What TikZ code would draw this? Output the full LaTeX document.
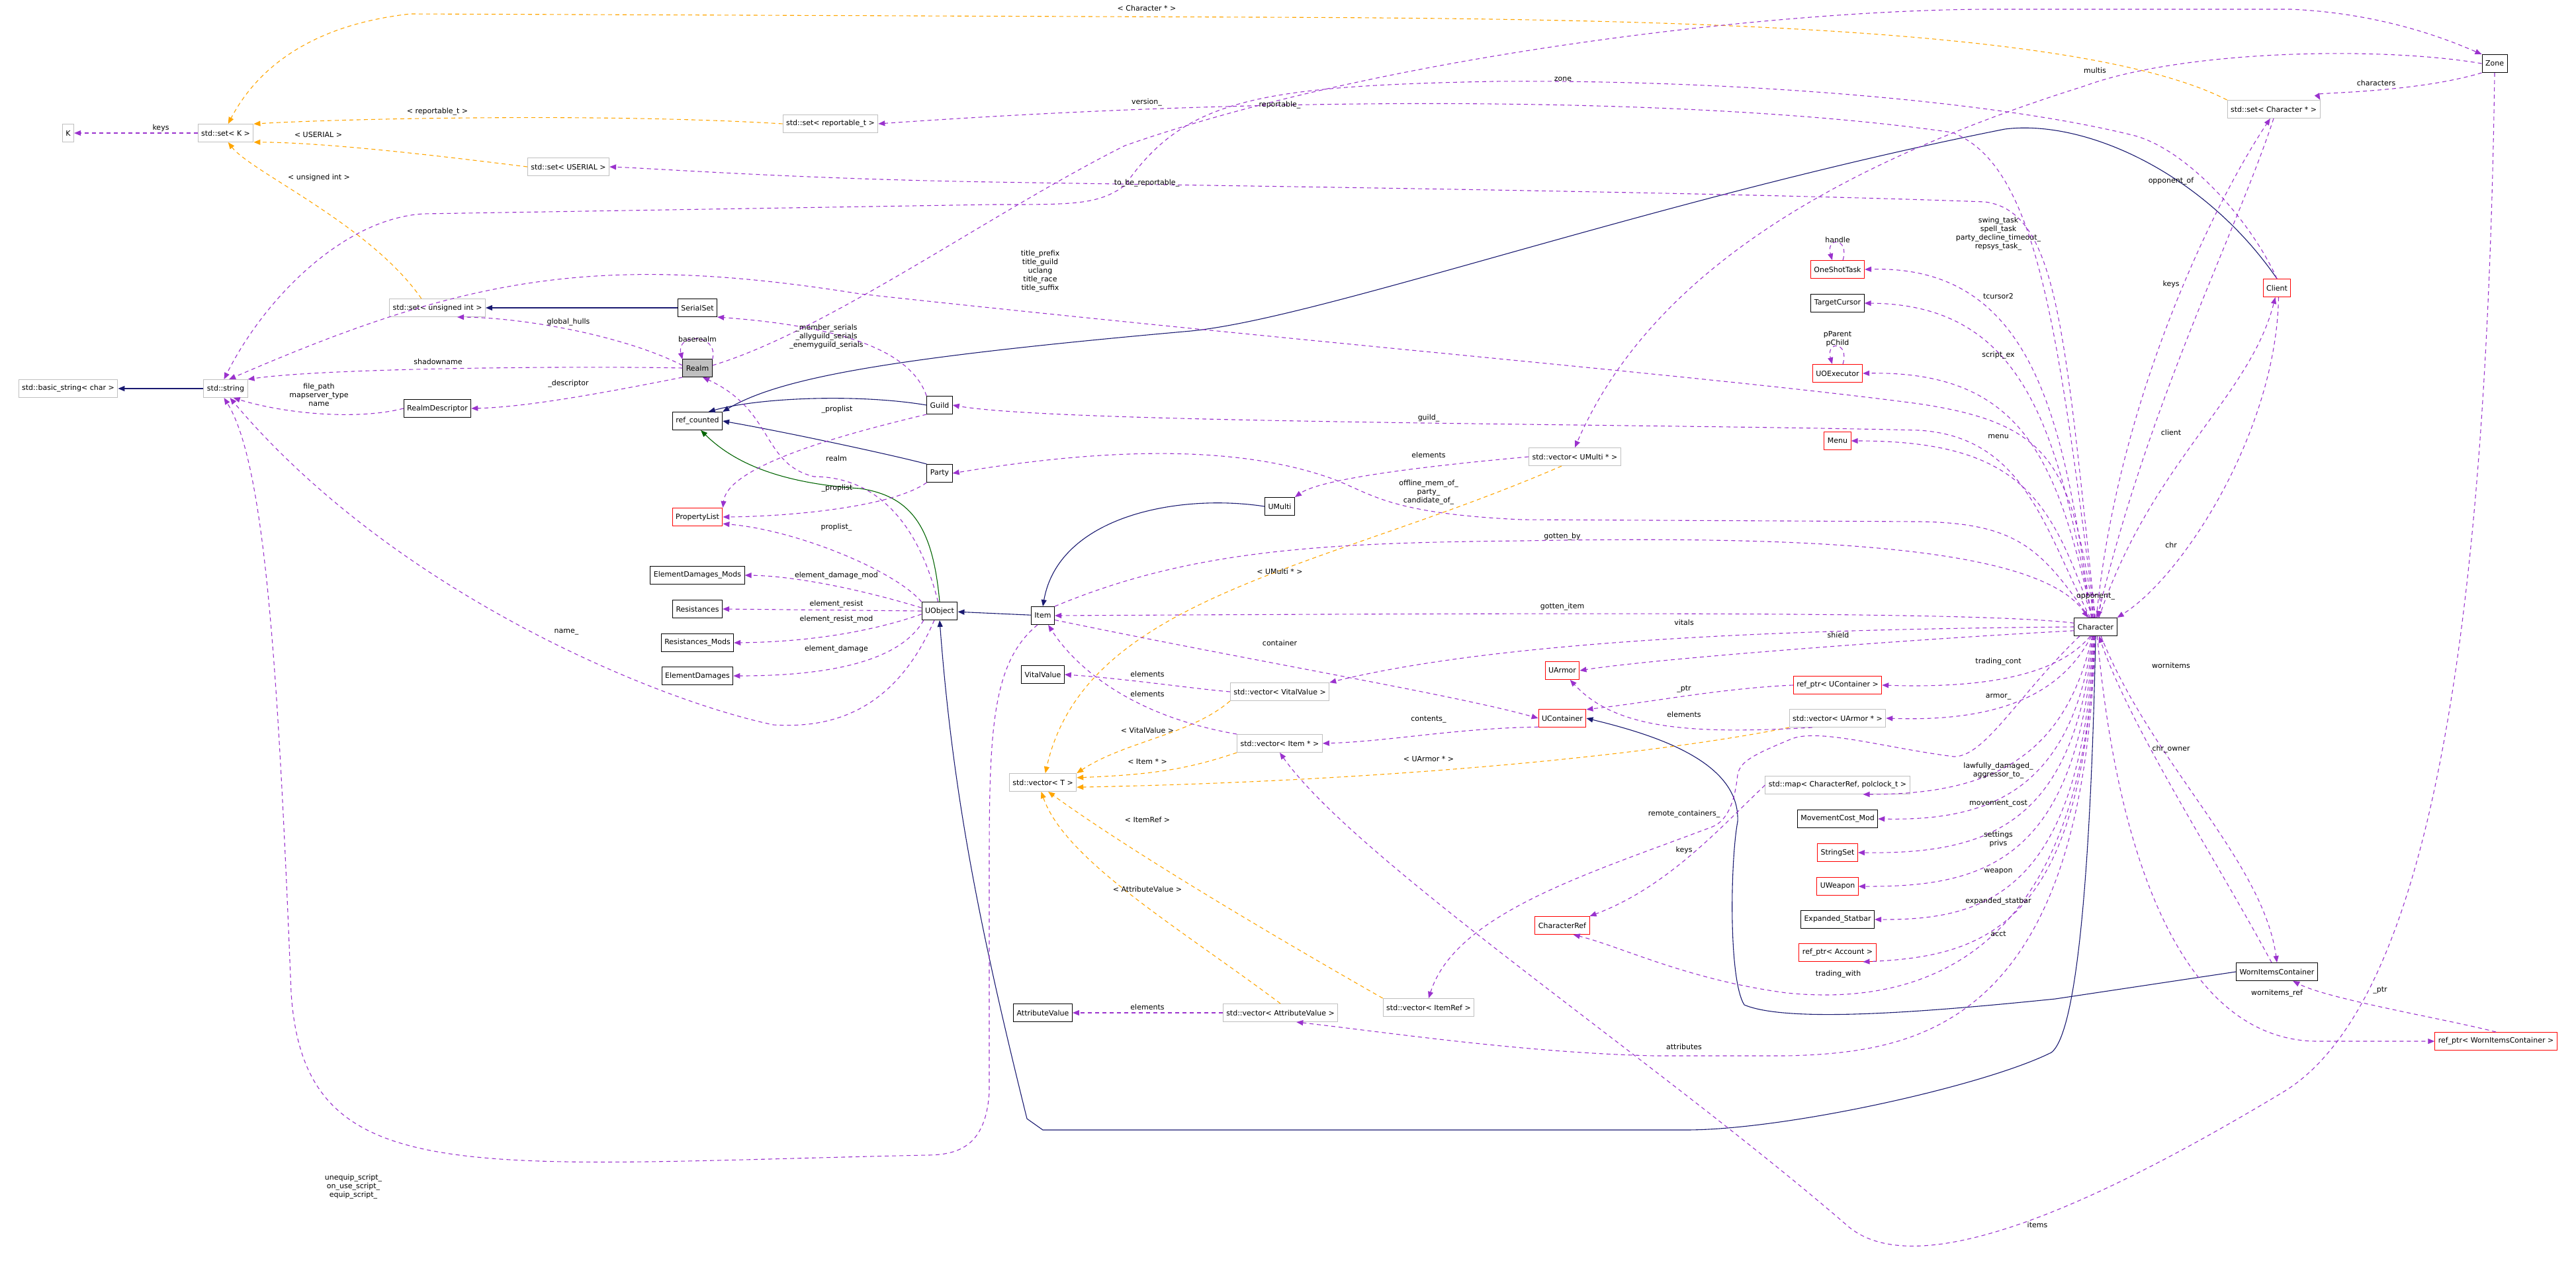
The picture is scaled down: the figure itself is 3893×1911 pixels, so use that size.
\documentclass[tikz,border=0pt]{standalone}
\usepackage{fontspec}
\setmainfont{DejaVu Sans}
\usetikzlibrary{arrows.meta}
\definecolor{memclr}{HTML}{9A32CD}
\definecolor{tmplclr}{HTML}{FFA500}
\definecolor{inhclr}{HTML}{191970}
\definecolor{protclr}{HTML}{006400}
\definecolor{extclr}{HTML}{BFBFBF}
\newcommand{\dxfont}{\fontsize{11bp}{13bp}\selectfont}
\begin{document}
\begin{tikzpicture}[x=1bp,y=-1bp]
    \tikzstyle{cls}=[draw=black,fill=white,font=\dxfont,inner sep=5bp,minimum height=27bp,line width=1bp]
    \tikzstyle{ext}=[cls,draw=extclr]
    \tikzstyle{trunc}=[cls,draw=red]
    \tikzstyle{cur}=[cls,fill=extclr]
    \tikzstyle{lbl}=[font=\dxfont,align=center,inner sep=1bp]
    \tikzstyle{mem}=[draw=memclr,line width=1.1bp,dash pattern=on 6bp off 5bp,-{Triangle[length=10bp,width=8bp,fill=memclr]}]
    \tikzstyle{tmpl}=[mem,draw=tmplclr,-{Triangle[length=10bp,width=8bp,fill=tmplclr]}]
    \tikzstyle{inh}=[draw=inhclr,line width=1.1bp,-{Triangle[length=10bp,width=8bp,fill=inhclr]}]
    \tikzstyle{prot}=[inh,draw=protclr,-{Triangle[length=10bp,width=8bp,fill=protclr]}]
    \useasboundingbox (0,0) rectangle (3893,1911);

    % classes, left part
    \node[ext] (K) at (103,201) {K};
    \node[ext] (setK) at (341,201) {std::set< K >};
    \node[ext] (setRep) at (1255,187) {std::set< reportable\_t >};
    \node[ext] (setUS) at (859,252) {std::set< USERIAL >};
    \node[ext] (setUI) at (661,465) {std::set< unsigned int >};
    \node[cls] (serialset) at (1054,465) {SerialSet};
    \node[cur] (realm) at (1054,556) {Realm};
    \node[ext] (str) at (341,587) {std::string};
    \node[ext] (bstr) at (103,587) {std::basic\_string< char >};
    \node[cls] (rdesc) at (661,617) {RealmDescriptor};
    \node[cls] (refc) at (1054,636) {ref\_counted};
    \node[cls] (guild) at (1420,612) {Guild};
    \node[cls] (party) at (1420,715) {Party};
    \node[trunc] (plist) at (1054,781) {PropertyList};
    \node[cls] (edm) at (1054,869) {ElementDamages\_Mods};
    \node[cls] (res) at (1054,920) {Resistances};
    \node[cls] (resm) at (1054,971) {Resistances\_Mods};
    \node[cls] (ed) at (1054,1021) {ElementDamages};
    \node[cls] (uobj) at (1420,923) {UObject};
    \node[cls] (item) at (1576,930) {Item};
    \node[cls] (umulti) at (1934,765) {UMulti};
    \node[cls] (vital) at (1576,1019) {VitalValue};
    \node[ext] (vecVV) at (1934,1045) {std::vector< VitalValue >};
    \node[ext] (vecIt) at (1934,1123) {std::vector< Item * >};
    \node[ext] (vecT) at (1576,1182) {std::vector< T >};
    \node[ext] (vecUM) at (2380,690) {std::vector< UMulti * >};
    \node[cls] (attr) at (1576,1530) {AttributeValue};
    \node[ext] (vecAV) at (1935,1530) {std::vector< AttributeValue >};
    \node[ext] (vecIR) at (2159,1522) {std::vector< ItemRef >};

    % classes, right part
    \node[trunc] (ost) at (2777,407) {OneShotTask};
    \node[cls] (tcur) at (2777,458) {TargetCursor};
    \node[trunc] (uoe) at (2777,564) {UOExecutor};
    \node[trunc] (menu) at (2777,666) {Menu};
    \node[trunc] (client) at (3441,435) {Client};
    \node[cls] (chr) at (3167,947) {Character};
    \node[trunc] (uarmor) at (2361,1013) {UArmor};
    \node[trunc] (refUC) at (2777,1035) {ref\_ptr< UContainer >};
    \node[trunc] (ucont) at (2361,1085) {UContainer};
    \node[ext] (vecUA) at (2777,1085) {std::vector< UArmor * >};
    \node[ext] (mapCR) at (2777,1186) {std::map< CharacterRef, polclock\_t >};
    \node[cls] (mcm) at (2777,1237) {MovementCost\_Mod};
    \node[trunc] (sset) at (2777,1288) {StringSet};
    \node[trunc] (uweap) at (2777,1339) {UWeapon};
    \node[cls] (estat) at (2777,1389) {Expanded\_Statbar};
    \node[trunc] (refAcc) at (2777,1439) {ref\_ptr< Account >};
    \node[trunc] (charref) at (2361,1398) {CharacterRef};
    \node[cls] (wic) at (3441,1468) {WornItemsContainer};
    \node[trunc] (refWIC) at (3772,1573) {ref\_ptr< WornItemsContainer >};
    \node[cls] (zone) at (3770,96) {Zone};
    \node[ext] (setChar) at (3436,165) {std::set< Character * >};

    % inheritance
    \draw[inh] (str) -- (bstr);
    \draw[inh] (serialset) -- (setUI);
    \draw[inh] (guild.west) .. controls (1300,595) and (1150,600) .. (refc.40);
    \draw[inh] (party.north west) .. controls (1360,690) and (1200,655) .. (refc.east);
    \draw[inh] (client.north) .. controls (3330,260) and (3150,180) .. (3030,195) .. controls (2500,300) and (2000,480) .. (1800,500) .. controls (1350,540) and (1180,570) .. (refc.north east);
    \draw[prot] (uobj.north) .. controls (1410,800) and (1380,750) .. (1300,738) .. controls (1180,730) and (1110,700) .. (refc.-70);
    \draw[inh] (item) -- (uobj);
    \draw[inh] (umulti.west) .. controls (1780,745) and (1600,780) .. (item.north);
    \draw[inh] (chr.south) .. controls (3160,1300) and (3140,1560) .. (3100,1590) .. controls (3000,1640) and (2700,1707) .. (2547,1707) -- (1576,1707) -- (1552,1690) .. controls (1480,1400) and (1440,1200) .. (uobj.south);
    \draw[inh] (wic.west) -- (3106,1509) .. controls (2900,1530) and (2700,1545) .. (2636,1518) .. controls (2612,1480) and (2615,1300) .. (2626,1241) .. controls (2630,1150) and (2500,1110) .. (ucont.east);

    % templates
    \draw[tmpl] (setRep.west) .. controls (900,170) and (500,180) .. (setK.18);
    \draw[tmpl] (setUS.west) .. controls (700,240) and (500,215) .. (setK.-18);
    \draw[tmpl] (setUI.150) .. controls (560,340) and (380,260) .. (setK.-75);
    \draw[tmpl] (setChar.north west) .. controls (3150,40) and (2500,28) .. (1900,26) -- (620,21) .. controls (450,40) and (380,120) .. (setK.75);
    \draw[tmpl] (vecUM.215) .. controls (2000,860) and (1640,900) .. (vecT.75);
    \draw[tmpl] (vecVV.south west) .. controls (1800,1110) and (1700,1120) .. (vecT.north east);
    \draw[tmpl] (vecIt.south west) .. controls (1800,1160) and (1750,1170) .. (vecT.8);
    \draw[tmpl] (vecUA.south west) .. controls (2500,1140) and (2100,1180) .. (vecT.-8);
    \draw[tmpl] (vecIR.north west) .. controls (1900,1400) and (1700,1280) .. (vecT.-60);
    \draw[tmpl] (vecAV.north) .. controls (1780,1400) and (1610,1300) .. (vecT.-100);

    % members, left part
    \draw[mem] (setK) -- (K);
    \draw[mem] (realm.170) .. controls (950,510) and (800,480) .. (setUI.-25);
    \draw[mem] (realm.30) .. controls +(10,-40) and +(-10,-40) .. (realm.150);
    \draw[mem] (realm.west) .. controls (900,553) and (500,555) .. (str.north east);
    \draw[mem] (realm.south west) .. controls (930,590) and (800,615) .. (rdesc.east);
    \draw[mem] (rdesc.west) .. controls (540,635) and (430,625) .. (str.-50);
    \draw[mem] (uobj.-120) .. controls (1350,1080) and (1250,1100) .. (1169,1095) .. controls (1000,1060) and (600,900) .. (str.-65);
    \draw[mem] (item.-120) .. controls (1500,1000) and (1495,1100) .. (1495,1300) -- (1495,1650) .. controls (1490,1730) and (1450,1745) .. (1400,1745) .. controls (700,1760) and (460,1800) .. (440,1500) .. controls (420,1000) and (400,700) .. (str.-100);
    \draw[mem] (uobj.100) .. controls (1380,760) and (1300,720) .. (1230,720) .. controls (1150,700) and (1170,620) .. (realm.-60);
    \draw[mem] (guild.north west) .. controls (1380,540) and (1300,495) .. (serialset.south east);
    \draw[mem] (guild.south west) .. controls (1300,650) and (1100,700) .. (plist.north east);
    \draw[mem] (party.south west) .. controls (1350,765) and (1200,780) .. (plist.east);
    \draw[mem] (uobj.north west) .. controls (1350,860) and (1200,800) .. (plist.-15);
    \draw[mem] (uobj.170) .. controls (1300,890) and (1200,870) .. (edm.east);
    \draw[mem] (uobj.west) -- (res.east);
    \draw[mem] (uobj.-170) .. controls (1300,960) and (1200,970) .. (resm.east);
    \draw[mem] (uobj.-150) .. controls (1360,1000) and (1250,1021) .. (ed.east);
    \draw[mem] (vecUM.west) .. controls (2200,700) and (2000,720) .. (umulti.north east);
    \draw[mem] (vecVV.west) .. controls (1800,1040) and (1700,1025) .. (vital.east);
    \draw[mem] (vecIt.north west) .. controls (1700,1080) and (1620,1000) .. (item.-60);
    \draw[mem] (item.-20) .. controls (1900,1000) and (2200,1050) .. (ucont.west);
    \draw[mem] (ucont.200) .. controls (2200,1100) and (2100,1120) .. (vecIt.east);
    \draw[mem] (vecAV.west) -- (attr.east);
    \draw[mem] (refUC.west) .. controls (2600,1040) and (2500,1060) .. (ucont.20);
    \draw[mem] (vecUA.200) .. controls (2550,1110) and (2440,1100) .. (uarmor.-50);
    \draw[mem] (mapCR.west) .. controls (2600,1250) and (2520,1340) .. (charref.north east);

    % members, Character and friends
    \draw[mem] (chr.100) .. controls (3130,700) and (3100,640) .. (2900,610) .. controls (2600,570) and (2000,520) .. (1300,444) .. controls (900,380) and (700,420) .. (str.70);
    \draw[mem] (client.north) .. controls (3400,330) and (3300,220) .. (3218,203) .. controls (3000,150) and (2600,120) .. (2257,123) .. controls (1900,130) and (1790,150) .. (1700,280) .. controls (1660,310) and (1620,309) .. (1500,309) -- (640,323) .. controls (520,330) and (400,450) .. (str.100);
    \draw[mem] (chr.95) .. controls (3110,500) and (3080,250) .. (2950,200) .. controls (2600,150) and (2000,140) .. (setRep.east);
    \draw[mem] (chr.92) .. controls (3120,500) and (3110,320) .. (3000,305) .. controls (2600,290) and (1800,280) .. (1500,275) .. controls (1200,270) and (1000,255) .. (setUS.east);
    \draw[mem] (realm.10) .. controls (1250,500) and (1500,320) .. (1700,220) .. controls (2100,80) and (2700,14) .. (3009,14) -- (3462,14) .. controls (3600,20) and (3700,60) .. (zone.north west);
    \draw[mem] (zone.west) .. controls (3600,70) and (3300,75) .. (3150,130) .. controls (2800,240) and (2500,400) .. (vecUM.north);
    \draw[mem] (zone.south west) .. controls (3650,140) and (3500,140) .. (setChar.north east);
    \draw[mem] (zone.south) .. controls (3760,800) and (3700,1500) .. (3450,1650) .. controls (3200,1800) and (2900,1950) .. (2790,1850) .. controls (2500,1600) and (2050,1300) .. (vecIt.south);
    \draw[mem] (setChar.south) .. controls (3380,350) and (3250,600) .. (chr.80);
    \draw[mem] (chr.85) .. controls (3200,600) and (3350,300) .. (setChar.-110);
    \draw[mem] (chr.105) .. controls +(-10,-45) and +(10,-45) .. (chr.75);
    \draw[mem] (client.-80) .. controls (3440,650) and (3300,870) .. (chr.north east);
    \draw[mem] (chr.70) .. controls (3250,700) and (3400,600) .. (client.-100);
    \draw[mem] (chr.120) .. controls (3090,800) and (3060,660) .. (2900,650) .. controls (2500,640) and (1600,640) .. (guild.east);
    \draw[mem] (chr.125) .. controls (3085,830) and (3050,790) .. (2900,788) -- (2300,785) .. controls (2080,775) and (2070,740) .. (1998,718) .. controls (1850,670) and (1650,680) .. (party.east);
    \draw[mem] (item.north east) .. controls (1800,830) and (2000,820) .. (2300,817) .. controls (2700,810) and (3080,820) .. (chr.130);
    \draw[mem] (chr.170) .. controls (3000,925) and (2500,925) .. (item.east);
    \draw[mem] (chr.west) .. controls (2800,950) and (2300,960) .. (vecVV.north east);
    \draw[mem] (chr.-170) .. controls (2900,965) and (2500,995) .. (uarmor.east);
    \draw[mem] (chr.115) .. controls (3120,650) and (3080,400) .. (ost.east);
    \draw[mem] (ost.60) .. controls +(10,-35) and +(-10,-35) .. (ost.120);
    \draw[mem] (chr.112) .. controls (3110,650) and (3060,460) .. (tcur.east);
    \draw[mem] (chr.110) .. controls (3110,700) and (3060,560) .. (uoe.east);
    \draw[mem] (uoe.60) .. controls +(10,-35) and +(-10,-35) .. (uoe.120);
    \draw[mem] (chr.108) .. controls (3100,760) and (3060,666) .. (menu.east);
    \draw[mem] (chr.-120) .. controls (3110,1020) and (3000,1040) .. (refUC.east);
    \draw[mem] (chr.-115) .. controls (3110,1060) and (3000,1090) .. (vecUA.east);
    \draw[mem] (chr.-110) .. controls (3120,1150) and (3000,1200) .. (mapCR.-20);
    \draw[mem] (chr.-108) .. controls (3130,1200) and (3000,1240) .. (mcm.east);
    \draw[mem] (chr.-105) .. controls (3135,1250) and (3000,1290) .. (sset.east);
    \draw[mem] (chr.-102) .. controls (3140,1300) and (3000,1340) .. (uweap.east);
    \draw[mem] (chr.-100) .. controls (3145,1350) and (3000,1390) .. (estat.east);
    \draw[mem] (chr.-98) .. controls (3150,1400) and (3000,1445) .. (refAcc.-20);
    \draw[mem] (chr.-96) .. controls (3150,1450) and (2900,1520) .. (2700,1500) .. controls (2550,1480) and (2450,1430) .. (charref.-40);
    \draw[mem] (chr.-150) .. controls (3050,1050) and (3000,1143) .. (2953,1143) .. controls (2850,1130) and (2750,1100) .. (2708,1116) .. controls (2650,1140) and (2630,1150) .. (2626,1170) .. controls (2620,1230) and (2600,1245) .. (2585,1250) .. controls (2400,1320) and (2200,1380) .. (vecIR.north);
    \draw[mem] (chr.-94) .. controls (3150,1550) and (2900,1590) .. (2700,1595) -- (2500,1595) .. controls (2300,1590) and (2100,1560) .. (vecAV.-30);
    \draw[mem] (chr.-60) .. controls (3250,1150) and (3420,1300) .. (wic.north);
    \draw[mem] (wic.120) .. controls (3350,1300) and (3220,1100) .. (chr.-70);
    \draw[mem] (chr.-80) .. controls (3200,1300) and (3300,1570) .. (3500,1573) -- (refWIC.west);
    \draw[mem] (refWIC.north) .. controls (3700,1540) and (3520,1510) .. (wic.-30);

    % labels
    \node[lbl] (l-keys) at (243,193) {keys};
    \node[lbl] (l-rep) at (661,169) {< reportable\_t >};
    \node[lbl] (l-us) at (481,203) {< USERIAL >};
    \node[lbl] (l-ui) at (482,268) {< unsigned int >};
    \node[lbl] (l-chs) at (1733,12) {< Character * >};
    \node[lbl] (l-ver) at (1733,155) {version\_};
    \node[lbl] (l-repo) at (1934,159) {reportable\_};
    \node[lbl] (l-tbr) at (1733,277) {to\_be\_reportable\_};
    \node[lbl] (l-zone) at (2362,119) {zone};
    \node[lbl] (l-multis) at (3166,106) {multis};
    \node[lbl] (l-charsz) at (3591,125) {characters};
    \node[lbl] (l-oppof) at (3281,274) {opponent\_of};
    \node[lbl] (l-keysc) at (3281,429) {keys};
    \node[lbl] (l-client) at (3281,653) {client};
    \node[lbl] (l-chr) at (3281,823) {chr};
    \node[lbl] (l-opp) at (3167,901) {opponent\_};
    \node[lbl] (l-title) at (1572,410) {title\_prefix\\title\_guild\\uclang\\title\_race\\title\_suffix};
    \node[lbl] (l-hulls) at (859,487) {global\_hulls};
    \node[lbl] (l-base) at (1054,512) {baserealm};
    \node[lbl] (l-shadow) at (662,546) {shadowname};
    \node[lbl] (l-path) at (482,596) {file\_path\\mapserver\_type\\name};
    \node[lbl] (l-desc) at (859,580) {\_descriptor};
    \node[lbl] (l-serials) at (1249,509) {\_member\_serials\\\_allyguild\_serials\\\_enemyguild\_serials};
    \node[lbl] (l-gpl) at (1265,619) {\_proplist};
    \node[lbl] (l-realm) at (1264,692) {realm};
    \node[lbl] (l-ppl) at (1265,738) {\_proplist};
    \node[lbl] (l-upl) at (1264,797) {proplist\_};
    \node[lbl] (l-edm) at (1264,870) {element\_damage\_mod};
    \node[lbl] (l-er) at (1264,913) {element\_resist};
    \node[lbl] (l-erm) at (1264,936) {element\_resist\_mod};
    \node[lbl] (l-ed) at (1264,981) {element\_damage};
    \node[lbl] (l-name) at (856,955) {name\_};
    \node[lbl] (l-scripts) at (534,1793) {unequip\_script\_\\on\_use\_script\_\\equip\_script\_};
    \node[lbl] (l-guild) at (2159,632) {guild\_};
    \node[lbl] (l-elum) at (2159,687) {elements};
    \node[lbl] (l-party) at (2159,744) {offline\_mem\_of\_\\party\_\\candidate\_of\_};
    \node[lbl] (l-tum) at (1934,863) {< UMulti * >};
    \node[lbl] (l-gby) at (2361,811) {gotten\_by};
    \node[lbl] (l-gitem) at (2361,917) {gotten\_item};
    \node[lbl] (l-vitals) at (2545,940) {vitals};
    \node[lbl] (l-shield) at (2778,959) {shield};
    \node[lbl] (l-cont) at (1934,971) {container};
    \node[lbl] (l-elvv) at (1734,1018) {elements};
    \node[lbl] (l-elit) at (1734,1048) {elements};
    \node[lbl] (l-tvv) at (1734,1103) {< VitalValue >};
    \node[lbl] (l-tit) at (1734,1150) {< Item * >};
    \node[lbl] (l-contents) at (2159,1087) {contents\_};
    \node[lbl] (l-tua) at (2159,1146) {< UArmor * >};
    \node[lbl] (l-tir) at (1734,1238) {< ItemRef >};
    \node[lbl] (l-tav) at (1734,1343) {< AttributeValue >};
    \node[lbl] (l-elav) at (1734,1521) {elements};
    \node[lbl] (l-ptr) at (2545,1041) {\_ptr};
    \node[lbl] (l-elua) at (2545,1079) {elements};
    \node[lbl] (l-remote) at (2545,1230) {remote\_containers\_};
    \node[lbl] (l-keysm) at (2545,1284) {keys};
    \node[lbl] (l-attrs) at (2545,1581) {attributes};
    \node[lbl] (l-tasks) at (3020,353) {swing\_task\\spell\_task\\party\_decline\_timeout\_\\repsys\_task\_};
    \node[lbl] (l-handle) at (2777,362) {handle};
    \node[lbl] (l-tcur) at (3020,447) {tcursor2};
    \node[lbl] (l-pp) at (2777,512) {pParent\\pChild};
    \node[lbl] (l-script) at (3020,537) {script\_ex};
    \node[lbl] (l-menu) at (3020,659) {menu};
    \node[lbl] (l-tcont) at (3020,1000) {trading\_cont};
    \node[lbl] (l-armor) at (3020,1053) {armor\_};
    \node[lbl] (l-lawf) at (3020,1164) {lawfully\_damaged\_\\aggressor\_to\_};
    \node[lbl] (l-move) at (3020,1214) {movement\_cost};
    \node[lbl] (l-priv) at (3020,1268) {settings\\privs};
    \node[lbl] (l-weap) at (3020,1317) {weapon};
    \node[lbl] (l-estat) at (3020,1362) {expanded\_statbar};
    \node[lbl] (l-acct) at (3020,1411) {acct};
    \node[lbl] (l-twith) at (2778,1472) {trading\_with};
    \node[lbl] (l-worn) at (3281,1005) {wornitems};
    \node[lbl] (l-owner) at (3281,1132) {chr\_owner};
    \node[lbl] (l-wref) at (3441,1501) {wornitems\_ref};
    \node[lbl] (l-wptr) at (3597,1496) {\_ptr};
    \node[lbl] (l-items) at (3079,1850) {items};
\end{tikzpicture}
\end{document}
